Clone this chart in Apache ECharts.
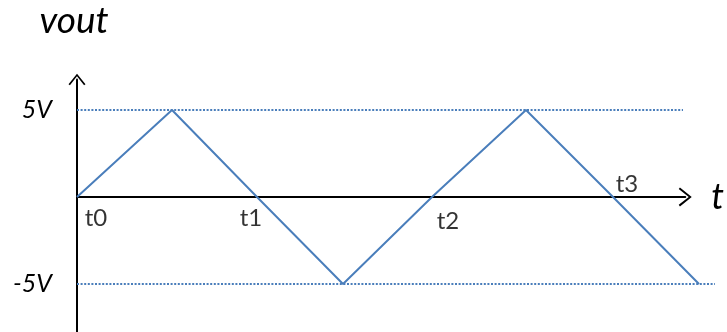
<!DOCTYPE html>
<html>
<head>
<meta charset="utf-8">
<script src="https://cdn.jsdelivr.net/npm/echarts@6/dist/echarts.min.js"></script>
<style>
  html, body { margin: 0; padding: 0; background: #fff; }
  #chart { width: 727px; height: 332px; }
</style>
</head>
<body>
<div id="chart"></div>
<script>
// triangle wave corners (time, volts)
const times = [0, 0.95, 1.80, 2.66, 3.55, 4.49, 5.36, 6.22];
const vout = [0, 5, 0, -5, 0, 5, 0, -5];
// zero crossings that get a name
const crossNames = ['t0', 't1', 't2', 't3'];
const crossTimes = [0, 1.80, 3.55, 5.36];
const levelValues = [5, -5];
const levelLabels = ['5V', '-5V'];
const levelEnds = [6.06, 6.38];

const blue = '#4a7ebb';
// open chevron, pointing up (echarts turns it along the axis)
const chevron = 'path://M9.5,0 L19,11.8 L17.4,13 L9.5,3 L1.6,13 L0,11.8 Z';
const yMin = -7.76, yMax = 6.75;

const chart = echarts.init(document.getElementById('chart'));

const labelOffsets = [[19, 21], [-6, 21], [16, 24], [14, -13]];

// grid 0 carries the drawn axes, grid 1 (same scale, wider) carries the marks
// so the wave can run past the arrow head like in the picture
const option = {
    animation: false,
    grid: [
        { left: 77, right: 40, top: 79.5, bottom: 0 },
        { left: 77, right: 12, top: 79.5, bottom: 0 }
    ],
    xAxis: [
        {
            type: 'value',
            gridIndex: 0,
            min: 0,
            max: 6.10,
            name: 't',
            nameLocation: 'end',
            nameGap: 26,
            nameTextStyle: {
                fontFamily: 'Lato',
                fontStyle: 'italic',
                fontSize: 36,
                color: '#000'
            },
            axisLine: {
                onZero: true,
                symbol: ['none', chevron],
                symbolSize: [19, 13],
                lineStyle: { color: '#000', width: 2 }
            },
            axisTick: { show: false },
            axisLabel: { show: false },
            splitLine: { show: false }
        },
        {
            type: 'value',
            gridIndex: 1,
            min: 0,
            max: 6.38,
            show: false
        }
    ],
    yAxis: [
        {
            type: 'value',
            gridIndex: 0,
            min: yMin,
            max: yMax,
            name: 'vout',
            nameLocation: 'end',
            nameGap: 40,
            nameTextStyle: {
                fontFamily: 'Lato',
                fontStyle: 'italic',
                fontSize: 37,
                color: '#000',
                padding: [0, 6, 0, 0]
            },
            axisLine: {
                show: true,
                symbol: ['none', chevron],
                symbolSize: [17, 13],
                lineStyle: { color: '#000', width: 2 }
            },
            axisTick: { show: false },
            axisLabel: {
                customValues: levelValues,
                formatter: function (v) {
                    return levelLabels[levelValues.indexOf(v)];
                },
                margin: 25,
                fontFamily: 'Lato',
                fontStyle: 'italic',
                fontSize: 25,
                color: '#000'
            },
            splitLine: { show: false }
        },
        {
            type: 'value',
            gridIndex: 1,
            min: yMin,
            max: yMax,
            show: false
        }
    ],
    series: [
        {
            type: 'line',
            xAxisIndex: 1,
            yAxisIndex: 1,
            data: times.map((t, i) => [t, vout[i]]),
            symbol: 'none',
            lineStyle: { color: blue, width: 2 },
            z: 3,
            markLine: {
                silent: true,
                symbol: 'none',
                label: { show: false },
                lineStyle: { color: blue, width: 2, type: [2, 1.6] },
                data: levelValues.map((v, i) => [
                    { coord: [0, v] },
                    { coord: [levelEnds[i], v] }
                ])
            }
        },
        {
            type: 'scatter',
            xAxisIndex: 1,
            yAxisIndex: 1,
            symbolSize: 0,
            z: 4,
            data: crossTimes.map((t, i) => ({
                name: crossNames[i],
                value: [t, 0],
                label: { offset: labelOffsets[i] }
            })),
            label: {
                show: true,
                position: 'inside',
                formatter: '{b}',
                fontFamily: 'Lato',
                fontSize: 24,
                color: '#000'
            }
        }
    ]
};

chart.setOption(option);
</script>
</body>
</html>
